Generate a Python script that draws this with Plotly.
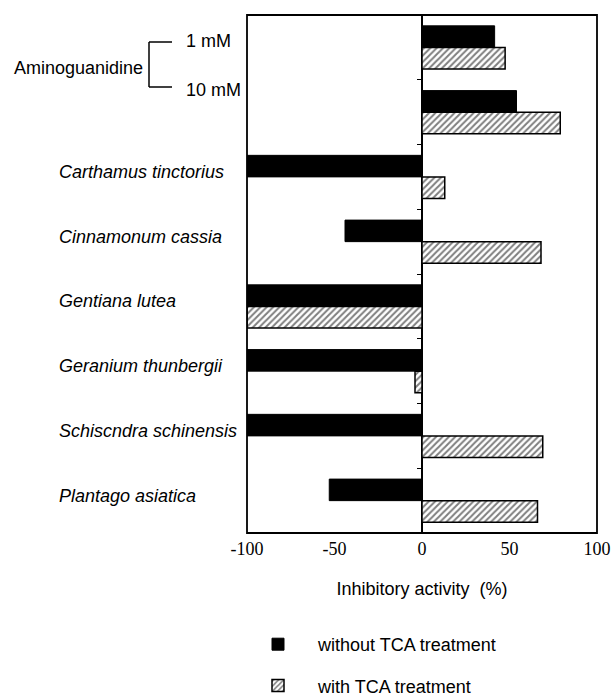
import plotly.graph_objects as go

categories = ["1 mM", "10 mM", "Carthamus tinctorius", "Cinnamonum cassia",
              "Gentiana lutea", "Geranium thunbergii", "Schiscndra schinensis",
              "Plantago asiatica"]
without_tca = [41.5, 54, -100, -44, -100, -100, -100, -53]
with_tca = [47.5, 79, 13, 68, -100, -4, 69, 66]
x_ticks = [-100, -50, 0, 50, 100]
group_name = "Aminoguanidine"
series_names = ["without TCA treatment", "with TCA treatment"]

W, H = 611, 698
L, R, T, B = 247, 14, 15, 165
PW, PH = W - L - R, H - T - B

def px(x):
    return (x - L) / PW

def py(y):
    return 1 - (y - T) / PH

SANS = "Liberation Sans, Arial, Helvetica, sans-serif"
SERIF = "Liberation Serif, Times New Roman, serif"

fig = go.Figure()
fig.add_trace(go.Bar(
    y=categories, x=without_tca, orientation="h", name=series_names[0],
    marker=dict(color="black", line=dict(color="black", width=1)),
    legendgroup="a",
))
fig.add_trace(go.Bar(
    y=categories, x=with_tca, orientation="h", name=series_names[1],
    marker=dict(color="white", line=dict(color="black", width=1.5),
                pattern=dict(shape="/", size=4.5, solidity=0.45,
                             fgcolor="black", bgcolor="white")),
    legendgroup="b",
))

annotations = []
for c in categories[2:]:
    annotations.append(dict(
        x=px(57), xref="paper", y=c, yref="y", xanchor="left", yanchor="middle",
        text=c, showarrow=False, yshift=5,
        font=dict(family=SANS, size=18, color="black", style="italic")))
annotations.append(dict(x=px(12), xref="paper", y=py(68), yref="paper",
                        xanchor="left", yanchor="middle", text=group_name,
                        showarrow=False, font=dict(family=SANS, size=18, color="black")))
annotations.append(dict(x=px(184), xref="paper", y=py(41), yref="paper",
                        xanchor="left", yanchor="middle", text=categories[0],
                        showarrow=False, font=dict(family=SANS, size=18, color="black")))
annotations.append(dict(x=px(184), xref="paper", y=py(90), yref="paper",
                        xanchor="left", yanchor="middle", text=categories[1],
                        showarrow=False, font=dict(family=SANS, size=18, color="black")))

shapes = [
    dict(type="line", xref="paper", yref="paper", x0=px(149), x1=px(149),
         y0=py(42), y1=py(87), line=dict(color="black", width=1.5)),
    dict(type="line", xref="paper", yref="paper", x0=px(149), x1=px(172),
         y0=py(42), y1=py(42), line=dict(color="black", width=1.5)),
    dict(type="line", xref="paper", yref="paper", x0=px(149), x1=px(172),
         y0=py(87), y1=py(87), line=dict(color="black", width=1.5)),
    dict(type="rect", xref="paper", yref="paper", x0=0, x1=1, y0=0, y1=1,
         line=dict(color="black", width=1.8), layer="above"),
]

fig.update_layout(
    width=W, height=H,
    margin=dict(l=L, r=R, t=T, b=B, pad=0, autoexpand=False),
    paper_bgcolor="white", plot_bgcolor="white",
    barmode="group", bargap=0.335, bargroupgap=0,
    showlegend=True,
    legend=dict(xref="container", yref="container",
                x=238 / W, y=1 - 626 / H, xanchor="left", yanchor="top",
                font=dict(family=SANS, size=18, color="black"),
                itemwidth=70, tracegroupgap=15, bgcolor="rgba(0,0,0,0)"),
    annotations=annotations,
    shapes=shapes,
    xaxis=dict(range=[-100, 100], tickvals=x_ticks,
               ticktext=[str(v) for v in x_ticks],
               showgrid=False, zeroline=True, zerolinecolor="black",
               zerolinewidth=2, showline=False, ticks="",
               ticklabelstandoff=3,
               tickfont=dict(family=SERIF, size=18, color="black"),
               title=dict(text="Inhibitory activity \u00a0(%)", standoff=24,
                          font=dict(family=SANS, size=18, color="black"))),
    yaxis=dict(categoryorder="array", categoryarray=categories,
               autorange="reversed", showticklabels=False,
               anchor="free", position=0.5, side="left",
               ticks="outside", tickson="boundaries", ticklen=5,
               tickwidth=1, tickcolor="black",
               showgrid=False, showline=False, zeroline=False),
)

fig.write_html("out.html")
